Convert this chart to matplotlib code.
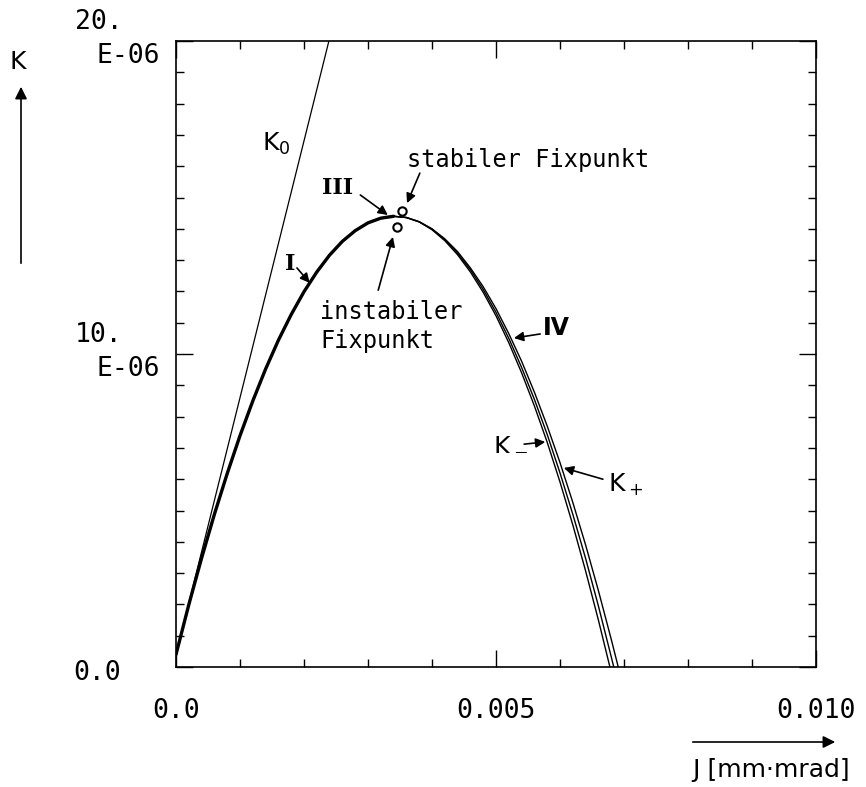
import matplotlib
matplotlib.use("Agg")
import matplotlib.pyplot as plt
from matplotlib.ticker import MultipleLocator

# --- data (J in mm*mrad, K in units of 1E-06) ---
j_left = [0.0, 0.0002, 0.0004, 0.0006, 0.0008, 0.0010, 0.0012, 0.0014, 0.0016,
          0.0018, 0.0020, 0.0022, 0.0024, 0.0026, 0.0028, 0.0030, 0.0032, 0.0034]
k_left = [0.4, 1.99, 3.48, 4.88, 6.18, 7.39, 8.50, 9.52, 10.44,
          11.26, 11.99, 12.62, 13.16, 13.60, 13.94, 14.19, 14.34, 14.40]

j_right = [0.0034, 0.0036, 0.0038, 0.0040, 0.0042, 0.0044, 0.0046, 0.0048, 0.0050,
           0.0052, 0.0054, 0.0056, 0.0058, 0.0060, 0.0062, 0.0064, 0.0066]
k_minus = [14.40, 14.36, 14.22, 13.97, 13.62, 13.17, 12.62, 11.97, 11.22,
           10.36, 9.40, 8.34, 7.18, 5.91, 4.54, 3.07, 1.50]
k_mid = [14.40, 14.36, 14.22, 13.99, 13.65, 13.22, 12.69, 12.06, 11.33,
         10.50, 9.57, 8.55, 7.43, 6.20, 4.88, 3.47, 1.95]
k_plus = [14.40, 14.36, 14.23, 14.00, 13.68, 13.27, 12.75, 12.15, 11.45,
          10.65, 9.77, 8.78, 7.70, 6.53, 5.26, 3.90, 2.44]
# end points on the J axis
j_end_minus, j_end_mid, j_end_plus = [0.00678], [0.0068, 0.00684], [0.0068, 0.00691]
k_end_minus, k_end_mid, k_end_plus = [0.0], [0.33, 0.0], [0.89, 0.0]

j_k0 = [0.0, 0.00245]
k_k0 = [0.4, 20.5]

j_fix = [0.00353, 0.00345]   # stabiler, instabiler Fixpunkt
k_fix = [14.57, 14.06]

xticks = [0.0, 0.005, 0.010]
xticklabels = ["0.0", "0.005", "0.010"]

mono = "DejaVu Sans Mono"

fig = plt.figure(figsize=(8.66, 7.87), dpi=100)
ax = fig.add_axes([176/866, 1 - 667/787, 640/866, 626/787])

ax.plot(j_k0, k_k0, color="black", lw=0.9)
ax.plot(j_right + j_end_minus, k_minus + k_end_minus, color="black", lw=1.0)
ax.plot(j_right + j_end_mid, k_mid + k_end_mid, color="black", lw=1.0)
ax.plot(j_right + j_end_plus, k_plus + k_end_plus, color="black", lw=1.0)
ax.plot(j_left, k_left, color="black", lw=2.4, solid_capstyle="round")
ax.plot(j_fix, k_fix, "o", ms=6, mfc="white", mec="black", mew=1.5)

ax.set_xlim(0, 0.010)
ax.set_ylim(0, 20)
ax.set_xticks(xticks)
ax.set_xticklabels(xticklabels, fontfamily=mono, fontsize=19)
ax.xaxis.set_minor_locator(MultipleLocator(0.001))
ax.set_yticks([0, 10, 20])
ax.set_yticklabels([])
ax.yaxis.set_minor_locator(MultipleLocator(1))
ax.tick_params(which="both", direction="in", top=True, right=True, width=1.0)
ax.tick_params(which="major", length=12, pad=22)
ax.tick_params(which="minor", length=6)
for s in ax.spines.values():
    s.set_linewidth(1.2)

# y tick labels in the old "10. / E-06" style
yt = ax.get_yaxis_transform()
for v, top in [(10, "10."), (20, "20.")]:
    ax.text(-0.158, v + 0.2, top, transform=yt, ha="left", va="bottom",
            fontfamily=mono, fontsize=19)
    ax.text(-0.025, v - 0.05, "E-06", transform=yt, ha="right", va="top",
            fontfamily=mono, fontsize=19)
ax.text(-0.086, -0.2, "0.0", transform=yt, ha="right", va="center",
        fontfamily=mono, fontsize=19)

# axis labels with arrows
fig.text(18/866, 1 - 62/787, "K", ha="center", va="center", fontsize=18)
fig.add_artist(matplotlib.patches.FancyArrowPatch(
    (21/866, 1 - 266/787), (21/866, 1 - 84/787), transform=fig.transFigure,
    arrowstyle="-|>", mutation_scale=18, color="black", lw=1.2))
fig.text(850/866, 1 - 770/787, "J [mm·mrad]", ha="right", va="center", fontsize=18)
fig.add_artist(matplotlib.patches.FancyArrowPatch(
    (690/866, 1 - 742/787), (838/866, 1 - 742/787), transform=fig.transFigure,
    arrowstyle="-|>", mutation_scale=18, color="black", lw=1.2))

# annotations
arw = dict(arrowstyle="-|>", color="black", lw=1.2, mutation_scale=14,
           shrinkA=0, shrinkB=0)
ax.text(0.00156, 16.7, "K$_0$", ha="center", va="center", fontsize=18)
ax.text(0.00361, 16.2, "stabiler Fixpunkt", ha="left", va="center",
        fontfamily=mono, fontsize=17)
ax.annotate("", xy=(0.00361, 14.82), xytext=(0.00381, 15.78), arrowprops=arw)
ax.text(0.00252, 15.3, "III", ha="center", va="center",
        fontfamily="DejaVu Serif", fontweight="bold", fontsize=16)
ax.annotate("", xy=(0.00331, 14.44), xytext=(0.00288, 15.08), arrowprops=arw)
ax.text(0.00225, 11.72, "instabiler\nFixpunkt", ha="left", va="top",
        fontfamily=mono, fontsize=17, linespacing=1.25)
ax.annotate("", xy=(0.00339, 13.74), xytext=(0.00316, 12.04), arrowprops=arw)
ax.text(0.00178, 12.88, "I", ha="center", va="center",
        fontfamily="DejaVu Serif", fontweight="bold", fontsize=16)
ax.annotate("", xy=(0.00209, 12.27), xytext=(0.00189, 12.75), arrowprops=arw)
ax.text(0.00594, 10.83, "\u2163", ha="center", va="center",
        fontfamily="DejaVu Sans", fontweight="bold", fontsize=17)
ax.annotate("", xy=(0.00528, 10.51), xytext=(0.00569, 10.64), arrowprops=arw)
ax.text(0.00522, 7.16, "K$_-$", ha="center", va="center", fontsize=18)
ax.annotate("", xy=(0.00577, 7.19), xytext=(0.00544, 7.12), arrowprops=arw)
ax.text(0.00702, 5.81, "K$_+$", ha="center", va="center", fontsize=18)
ax.annotate("", xy=(0.00606, 6.36), xytext=(0.00667, 6.0), arrowprops=arw)

fig.savefig("out.png", dpi=100)
